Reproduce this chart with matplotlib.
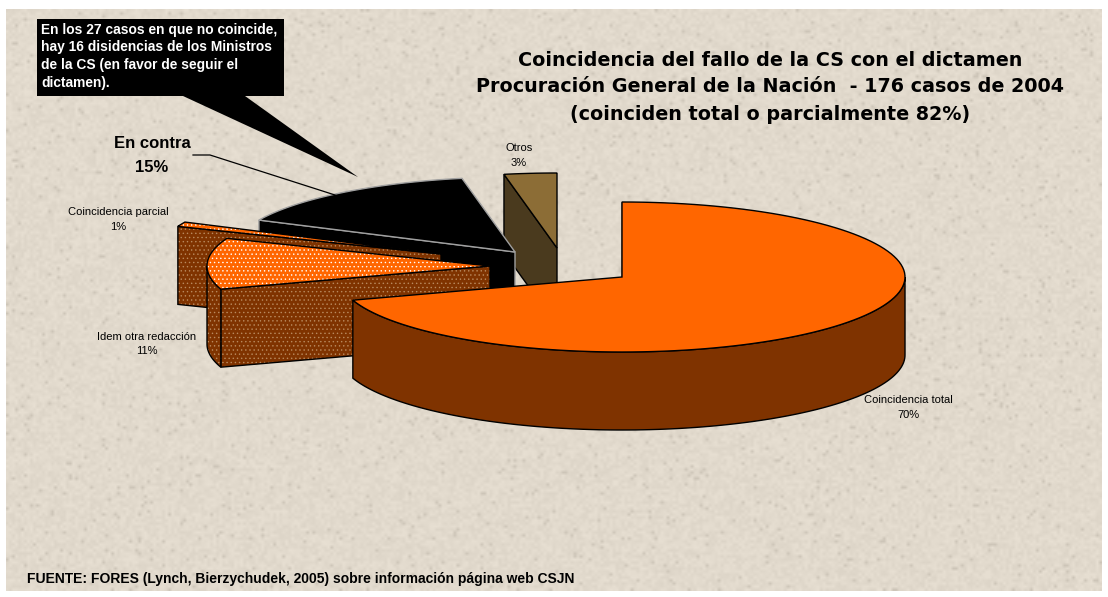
import numpy as np
import matplotlib
matplotlib.use("Agg")
import matplotlib.pyplot as plt
from matplotlib.patches import Polygon

labels = ["Coincidencia total", "Idem otra redacción", "Coincidencia parcial", "En contra", "Otros"]
shares = [70, 11, 1, 15, 3]

# centre of each slice after the explode, picture pixels
apex_x = [622, 490, 441, 515, 557]
apex_y = [277, 266, 254, 252, 248]
top_colors = ["#ff6600", "#ff6600", "#ff6600", "#000000", "#8c6d36"]
side_colors = ["#7f3300", "#7f3300", "#7f3300", "#000000", "#4a3a1e"]
edge_colors = ["black", "black", "black", "#a0a0a0", "black"]
dotted = [False, True, True, False, False]

RX, RY, DEPTH = 283, 75, 78

fig = plt.figure(figsize=(11.08, 5.97), dpi=100)
ax = fig.add_axes([0, 0, 1, 1])
ax.axis("off")

# paper texture, a hash of the pixel position
yy, xx = np.mgrid[0:194, 0:365]
g1 = np.sin(xx * 127.1 + yy * 311.7) * 43758.5453
g1 = g1 - np.floor(g1)
grain = np.sin(g1 * 91.7 + xx * 0.37 + yy * 0.53) * 24634.63
grain = grain - np.floor(grain)
tex = 226 + (grain - 0.5) * 12 - (grain > 0.97) * 26
rgb = np.dstack([tex, tex - 8, tex - 21]) / 255
ax.imshow(rgb, extent=(6, 1102, 591, 9), interpolation="bilinear", aspect="auto", zorder=0)
ax.set_xlim(0, 1108)
ax.set_ylim(597, 0)

plt.rcParams["hatch.linewidth"] = 0.5


def rim(cx, cy, t0, t1):
    t = np.radians(np.linspace(t0, t1, 120))
    return np.column_stack([cx + RX * np.sin(t), cy - RY * np.cos(t)])


def face(pts, color, edge, hatch_color=None):
    if hatch_color:
        ax.add_patch(Polygon(pts, facecolor=color, edgecolor=hatch_color, hatch="....", lw=0, zorder=z))
        ax.add_patch(Polygon(pts, fill=False, edgecolor=edge, lw=1, zorder=z))
    else:
        ax.add_patch(Polygon(pts, facecolor=color, edgecolor=edge, lw=1, zorder=z))


starts = 3.6 * np.concatenate([[0], np.cumsum(shares)[:-1]])
ends = 3.6 * np.cumsum(shares)
# back slices first, the big one goes on top
order = [4, 3, 2, 1, 0]
for z, i in enumerate(order, start=2):
    cx, cy = apex_x[i], apex_y[i]
    t0, t1 = starts[i], ends[i]
    top = rim(cx, cy, t0, t1)
    drop = np.array([0, DEPTH])
    side_dots = "#b98a5e" if dotted[i] else None

    # cut face at the start of the slice
    p = rim(cx, cy, t0, t0)[0]
    face([(cx, cy), p, p + drop, (cx, cy + DEPTH)], side_colors[i], edge_colors[i], side_dots)

    # outer wall, only the part turned to the viewer
    a, b = max(t0, 90), min(t1, 270)
    if a < b:
        wall = rim(cx, cy, a, b)
        face(np.vstack([wall, (wall + drop)[::-1]]), side_colors[i], edge_colors[i], side_dots)

    face(np.vstack([[(cx, cy)], top]), top_colors[i], edge_colors[i], "white" if dotted[i] else None)

sans = "Liberation Sans"
title = ["Coincidencia del fallo de la CS con el dictamen",
         "Procuración General de la Nación  - 176 casos de 2004",
         "(coinciden total o parcialmente 82%)"]
for line, y in zip(title, [60, 87, 115]):
    ax.text(770, y, line, ha="center", va="center", family="DejaVu Sans", weight="bold", fontsize=13.8, zorder=20)

# callout
ax.add_patch(Polygon([(37, 19), (284, 19), (284, 96), (245, 96), (358, 177), (183, 96), (37, 96)],
                     facecolor="black", edgecolor="none", zorder=15))
note = ["En los 27 casos en que no coincide,", "hay 16 disidencias de los Ministros",
        "de la CS (en favor de seguir el", "dictamen)."]
for line, y in zip(note, [30, 47, 65, 83]):
    ax.text(41, y, line, ha="left", va="center", color="white", family=sans, weight="bold", fontsize=9.9, zorder=20)

# slice labels
label_x = [908, 147, 118, 152, 519]
label_y = [400, 337, 212, 144, 148]
for i, (name, share) in enumerate(zip(labels, shares)):
    big = name == "En contra"
    gap = 24 if big else 14.5
    kw = dict(ha="center", va="center", family=sans, zorder=20,
              weight="bold" if big else "normal", fontsize=12 if big else 8)
    ax.text(label_x[i], label_y[i], name, **kw)
    ax.text(label_x[i], label_y[i] + gap, f"{share}%", **kw)
ax.plot([193, 210, 335], [155, 155, 195], color="black", lw=0.9, zorder=16)

ax.text(27, 579, "FUENTE: FORES (Lynch, Bierzychudek, 2005) sobre información página web CSJN",
        ha="left", va="center", family=sans, weight="bold", fontsize=10, zorder=20)

fig.savefig("out.png", dpi=100)
